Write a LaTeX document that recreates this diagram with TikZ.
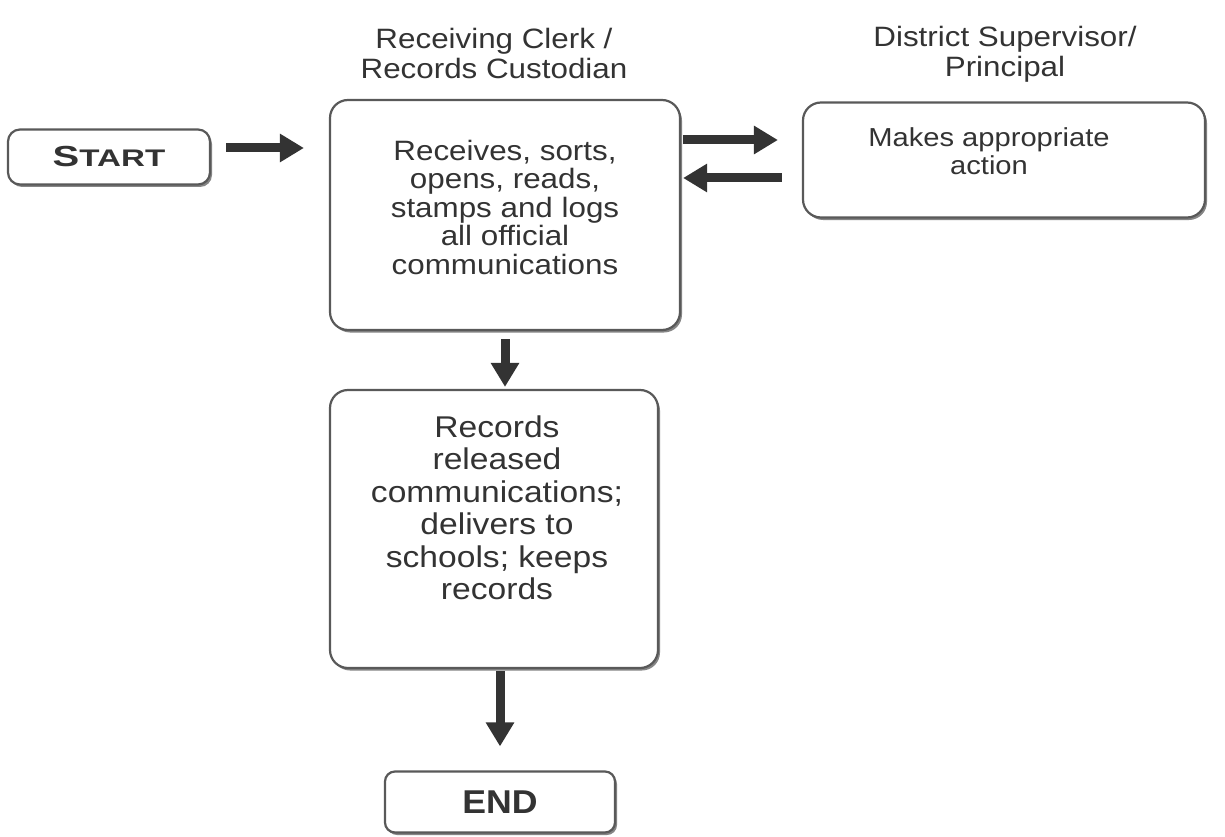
\documentclass[tikz,border=0pt]{standalone}
\usepackage{fontspec}
\setmainfont{Liberation Sans}[FakeStretch=1.12]
\newfontfamily\startfont{Liberation Sans}[FakeStretch=1.38]
\newfontfamily\endfont{Liberation Sans}[FakeStretch=1.08]
\usetikzlibrary{arrows.meta,shadows}
\definecolor{ink}{HTML}{333333}
\tikzset{
  box/.style={draw=black!65, line width=2.2pt, rounded corners=18pt, fill=white,
    drop shadow={shadow xshift=2pt, shadow yshift=-2.5pt, fill=black!60, opacity=0.8}},
  txt/.style={align=center, text=ink, inner sep=0pt, font=\fontsize{28}{28.5}\selectfont},
  hdr/.style={align=center, text=ink, inner sep=0pt, font=\fontsize{28}{30}\selectfont},
  arr/.style={draw=ink, line width=9pt, -{Triangle[length=24pt,width=27pt]}}
}
\begin{document}
\begin{tikzpicture}[x=1pt,y=-1pt]
\useasboundingbox (0,0) rectangle (1225,837);
% headers
\node[hdr] (h1) at (494,53) {Receiving Clerk /\\Records Custodian};
\node[hdr] (h2) at (1005,54) {District Supervisor/\\Principal};
% boxes
\node[box, minimum width=202pt, minimum height=55pt, rounded corners=12pt] (start) at (109,157)
  {\color{ink}\startfont\bfseries\fontsize{29}{29}\selectfont S\fontsize{24}{24}\selectfont TART};
\node[box, minimum width=350pt, minimum height=230pt] (main) at (505,215) {};
\node[txt] (maintext) at (505,207) {Receives, sorts,\\opens, reads,\\stamps and logs\\all official\\communications};
\node[box, minimum width=402pt, minimum height=115pt] (act) at (1004,160) {};
\node[txt, font=\fontsize{26}{28}\selectfont] (acttext) at (989,151) {Makes appropriate\\action};
\node[box, minimum width=328pt, minimum height=278pt] (rec) at (494,529) {};
\node[txt, font=\fontsize{30}{32.5}\selectfont] (rectext) at (497,508) {Records\\released\\communications;\\delivers to\\schools; keeps\\records};
\node[box, minimum width=230pt, minimum height=61pt, rounded corners=10pt] (end) at (500,802)
  {\color{ink}\endfont\bfseries\fontsize{33}{33}\selectfont END};
% arrows
\draw[arr] ([xshift=15pt,yshift=9pt]start.east) -- ([xshift=-25pt,yshift=9pt]start.east -| main.west);
\draw[arr] ([xshift=2pt,yshift=75pt]main.east) -- ([xshift=-24pt,yshift=75pt]main.east -| act.west);
\draw[arr] ([xshift=-20pt,yshift=37pt]main.east -| act.west) -- ([xshift=2pt,yshift=37pt]main.east);
\draw[arr] ([yshift=-8pt]main.south) -- ([yshift=2pt]main.south |- rec.north);
\draw[arr] ([yshift=-2pt]rec.south -| end.north) -- ([yshift=24pt]end.north);
\end{tikzpicture}
\end{document}
